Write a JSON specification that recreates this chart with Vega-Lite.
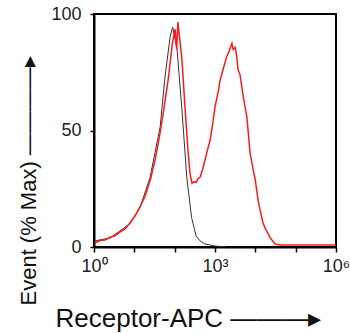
{
  "$schema": "https://vega.github.io/schema/vega-lite/v6.json",
  "width": 242,
  "height": 233,
  "autosize": "none",
  "padding": {"left": 94, "top": 14, "right": 14, "bottom": 86},
  "background": "white",
  "config": {
    "view": {"stroke": "black", "strokeWidth": 2},
    "font": "Liberation Sans",
    "axis": {
      "domainColor": "black", "domainWidth": 2, "tickColor": "black", "tickWidth": 1.5,
      "grid": false, "labelColor": "#222", "labelFont": "Liberation Sans", "labelFontSize": 18,
      "titleFont": "Liberation Sans", "titleFontWeight": "normal", "titleColor": "#111"
    }
  },
  "data": {"values": [
    {"s": "ctrl", "x": 0.02, "y": 2.6},
    {"s": "ctrl", "x": 0.40, "y": 3.9},
    {"s": "ctrl", "x": 0.89, "y": 10},
    {"s": "ctrl", "x": 1.14, "y": 16.9},
    {"s": "ctrl", "x": 1.39, "y": 29.9},
    {"s": "ctrl", "x": 1.64, "y": 51.5},
    {"s": "ctrl", "x": 1.76, "y": 73},
    {"s": "ctrl", "x": 1.89, "y": 90.5},
    {"s": "ctrl", "x": 1.95, "y": 94.4},
    {"s": "ctrl", "x": 1.99, "y": 91},
    {"s": "ctrl", "x": 2.06, "y": 84.8},
    {"s": "ctrl", "x": 2.18, "y": 58.9},
    {"s": "ctrl", "x": 2.30, "y": 29.9},
    {"s": "ctrl", "x": 2.42, "y": 12.6},
    {"s": "ctrl", "x": 2.53, "y": 4.8},
    {"s": "ctrl", "x": 2.63, "y": 2.6},
    {"s": "ctrl", "x": 2.75, "y": 1.3},
    {"s": "ctrl", "x": 3.0, "y": 0.4},
    {"s": "ctrl", "x": 3.3, "y": 0},
    {"s": "stain", "x": 0.02, "y": 1.7},
    {"s": "stain", "x": 0.15, "y": 2.8},
    {"s": "stain", "x": 0.27, "y": 3.0},
    {"s": "stain", "x": 0.40, "y": 4.2},
    {"s": "stain", "x": 0.52, "y": 4.8},
    {"s": "stain", "x": 0.65, "y": 6.5},
    {"s": "stain", "x": 0.77, "y": 7.8},
    {"s": "stain", "x": 0.90, "y": 10.5},
    {"s": "stain", "x": 1.02, "y": 13.4},
    {"s": "stain", "x": 1.15, "y": 17.5},
    {"s": "stain", "x": 1.27, "y": 22},
    {"s": "stain", "x": 1.40, "y": 29},
    {"s": "stain", "x": 1.51, "y": 37},
    {"s": "stain", "x": 1.62, "y": 47},
    {"s": "stain", "x": 1.71, "y": 56.7},
    {"s": "stain", "x": 1.84, "y": 71.9},
    {"s": "stain", "x": 1.94, "y": 87},
    {"s": "stain", "x": 2.01, "y": 93.5},
    {"s": "stain", "x": 2.05, "y": 84.8},
    {"s": "stain", "x": 2.08, "y": 96.5},
    {"s": "stain", "x": 2.18, "y": 80.5},
    {"s": "stain", "x": 2.26, "y": 58.9},
    {"s": "stain", "x": 2.33, "y": 41.6},
    {"s": "stain", "x": 2.38, "y": 31.6},
    {"s": "stain", "x": 2.43, "y": 27.3},
    {"s": "stain", "x": 2.48, "y": 28.1},
    {"s": "stain", "x": 2.53, "y": 27.7},
    {"s": "stain", "x": 2.58, "y": 29.4},
    {"s": "stain", "x": 2.63, "y": 29.9},
    {"s": "stain", "x": 2.70, "y": 33.8},
    {"s": "stain", "x": 2.80, "y": 40.7},
    {"s": "stain", "x": 2.88, "y": 45.9},
    {"s": "stain", "x": 2.95, "y": 53.7},
    {"s": "stain", "x": 3.00, "y": 60.2},
    {"s": "stain", "x": 3.08, "y": 66.7},
    {"s": "stain", "x": 3.13, "y": 71.9},
    {"s": "stain", "x": 3.20, "y": 76.2},
    {"s": "stain", "x": 3.29, "y": 81.8},
    {"s": "stain", "x": 3.35, "y": 84},
    {"s": "stain", "x": 3.42, "y": 87.4},
    {"s": "stain", "x": 3.45, "y": 84.8},
    {"s": "stain", "x": 3.50, "y": 85.7},
    {"s": "stain", "x": 3.54, "y": 81.8},
    {"s": "stain", "x": 3.57, "y": 76.2},
    {"s": "stain", "x": 3.62, "y": 74},
    {"s": "stain", "x": 3.70, "y": 64.5},
    {"s": "stain", "x": 3.79, "y": 55.8},
    {"s": "stain", "x": 3.87, "y": 40.3},
    {"s": "stain", "x": 3.95, "y": 32.9},
    {"s": "stain", "x": 4.00, "y": 28.6},
    {"s": "stain", "x": 4.07, "y": 19.9},
    {"s": "stain", "x": 4.12, "y": 15.6},
    {"s": "stain", "x": 4.19, "y": 10.4},
    {"s": "stain", "x": 4.24, "y": 8.2},
    {"s": "stain", "x": 4.37, "y": 3.9},
    {"s": "stain", "x": 4.49, "y": 1.3},
    {"s": "stain", "x": 4.62, "y": 0.9},
    {"s": "stain", "x": 6.0, "y": 0.9}
  ]},
  "mark": {"type": "line", "clip": true, "interpolate": "linear"},
  "encoding": {
    "x": {
      "field": "x", "type": "quantitative",
      "scale": {"domain": [0, 6], "nice": false, "zero": false},
      "axis": {
        "values": [0, 1, 2, 3, 4, 5, 6],
        "labelExpr": "datum.value == 0 ? '10⁰' : datum.value == 3 ? '10³' : datum.value == 6 ? '10⁶' : ''",
        "tickSize": 5, "labelPadding": 5, "labelFlush": false,
        "title": "Receptor-APC  ———▸",
        "titleFontSize": 26,
        "titleAnchor": "start", "titleX": -39, "titleY": 79, "titleBaseline": "alphabetic", "titleAlign": "left"
      }
    },
    "y": {
      "field": "y", "type": "quantitative",
      "scale": {"domain": [0, 100], "nice": false},
      "axis": {
        "values": [0, 50, 100], "tickSize": 4, "labelPadding": 9,
        "title": "Event (% Max)  ————▸",
        "titleFontSize": 22,
        "titleAngle": 270, "titleAlign": "left", "titleBaseline": "alphabetic",
        "titleX": -59, "titleY": 291, "titleAnchor": "start"
      }
    },
    "color": {
      "field": "s", "type": "nominal", "legend": null,
      "scale": {"domain": ["ctrl", "stain"], "range": ["#333333", "#ff1a1a"]}
    },
    "strokeWidth": {
      "field": "s", "type": "nominal", "legend": null,
      "scale": {"domain": ["ctrl", "stain"], "range": [1, 1.5]}
    }
  }
}
